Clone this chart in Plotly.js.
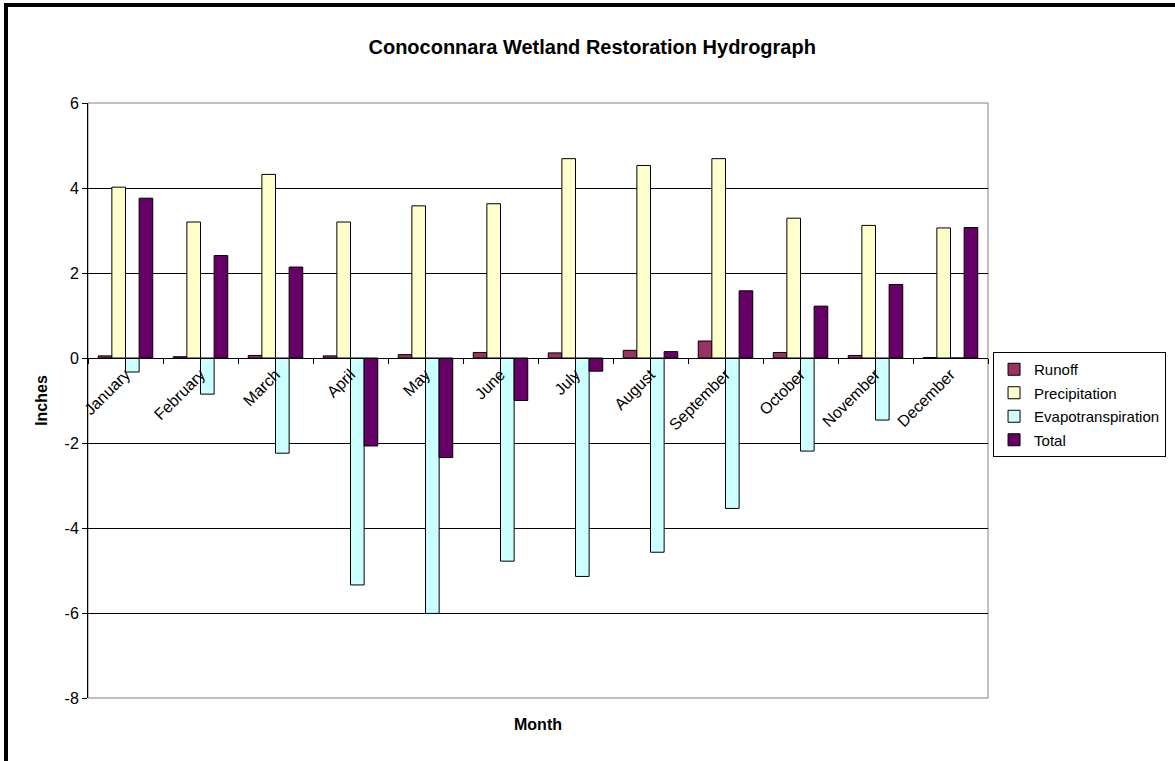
<!DOCTYPE html>
<html>
<head>
<meta charset="utf-8">
<script src="https://cdn.plot.ly/plotly-3.0.1.min.js"></script>
<style>
  html, body { margin: 0; padding: 0; background: #fff; overflow: hidden; }
  #chart { width: 1175px; height: 761px; }
  #frame {
    position: absolute; left: 4px; top: 3px; width: 1300px; height: 900px;
    border-left: 4px solid #000; border-top: 4px solid #000;
    pointer-events: none;
  }
</style>
</head>
<body>
<div id="chart"></div>
<div id="frame"></div>
<script>
// Monthly water balance components (inches)
const months = ["January", "February", "March", "April", "May", "June",
                "July", "August", "September", "October", "November", "December"];
const runoff = [0.05, 0.03, 0.06, 0.05, 0.08, 0.13, 0.12, 0.18, 0.40, 0.13, 0.06, 0.01];
const precipitation = [4.02, 3.20, 4.32, 3.20, 3.58, 3.63, 4.69, 4.53, 4.69, 3.29, 3.12, 3.06];
const evapotranspiration = [-0.33, -0.85, -2.24, -5.34, -6.01, -4.78, -5.14, -4.57, -3.54, -2.19, -1.46, 0];
const total = [3.76, 2.41, 2.14, -2.07, -2.34, -1.00, -0.31, 0.15, 1.58, 1.22, 1.73, 3.07];

const yTicks = [-8, -6, -4, -2, 0, 2, 4, 6];
const yMin = -8, yMax = 6;

const FONT = "'Liberation Sans', Arial, sans-serif";

function barTrace(name, values, color) {
  return {
    type: "bar",
    name: name,
    legendgroup: name,
    x: months,
    y: values,
    marker: { color: color, line: { color: "#000", width: 1 } },
    hoverinfo: "x+y+name"
  };
}

const data = [
  barTrace("Runoff", runoff, "#993366"),
  barTrace("Precipitation", precipitation, "#FFFFCC"),
  barTrace("Evapotranspiration", evapotranspiration, "#CCFFFF"),
  barTrace("Total", total, "#660066")
];

// x axis sits on the zero line of the value axis
const zeroPos = (0 - yMin) / (yMax - yMin);

const layout = {
  width: 1175,
  height: 761,
  paper_bgcolor: "#fff",
  plot_bgcolor: "#fff",
  font: { family: FONT, size: 16, color: "#000" },
  margin: { l: 88, r: 187, t: 103, b: 63, pad: 0, autoexpand: false },
  title: {
    text: "<b>Conoconnara Wetland Restoration Hydrograph</b>",
    font: { family: FONT, size: 20, color: "#000" },
    x: 0.504, xanchor: "center",
    y: 0.938, yanchor: "middle"
  },
  barmode: "group",
  bargap: 0.273,
  bargroupgap: 0,
  showlegend: true,
  legend: {
    x: 1.0056, xanchor: "left",
    y: 0.5815, yanchor: "top",
    bordercolor: "#000",
    borderwidth: 1,
    bgcolor: "#fff",
    font: { family: FONT, size: 15, color: "#000" },
    traceorder: "grouped",
    tracegroupgap: 1,
    itemwidth: 30
  },
  xaxis: {
    type: "category",
    anchor: "free",
    position: zeroPos,
    showline: true,
    linecolor: "#000",
    linewidth: 1,
    ticks: "outside",
    tickson: "boundaries",
    ticklen: 5,
    tickcolor: "#000",
    tickangle: -45,
    showgrid: false,
    zeroline: false,
    tickfont: { family: FONT, size: 16, color: "#000" },
    fixedrange: true
  },
  yaxis: {
    range: [yMin, yMax],
    tickvals: yTicks,
    ticktext: yTicks.map(String),
    showgrid: true,
    gridcolor: "#000",
    gridwidth: 1,
    showline: true,
    linecolor: "#000",
    linewidth: 1,
    ticks: "outside",
    ticklen: 5,
    tickcolor: "#000",
    zeroline: false,
    tickfont: { family: FONT, size: 16, color: "#000" },
    title: { text: "<b>Inches</b>", font: { family: FONT, size: 16, color: "#000" }, standoff: 12 },
    fixedrange: true
  },
  shapes: [
    {
      type: "rect", xref: "paper", yref: "paper",
      x0: 0, x1: 1, y0: 0, y1: 1,
      line: { color: "#808080", width: 1 },
      layer: "below"
    }
  ],
  annotations: [
    {
      text: "<b>Month</b>",
      xref: "paper", yref: "paper",
      x: 0.5, y: -0.045,
      xanchor: "center", yanchor: "middle",
      showarrow: false,
      font: { family: FONT, size: 16, color: "#000" }
    }
  ]
};

Plotly.newPlot("chart", data, layout, { displayModeBar: false, staticPlot: true });
</script>
</body>
</html>
